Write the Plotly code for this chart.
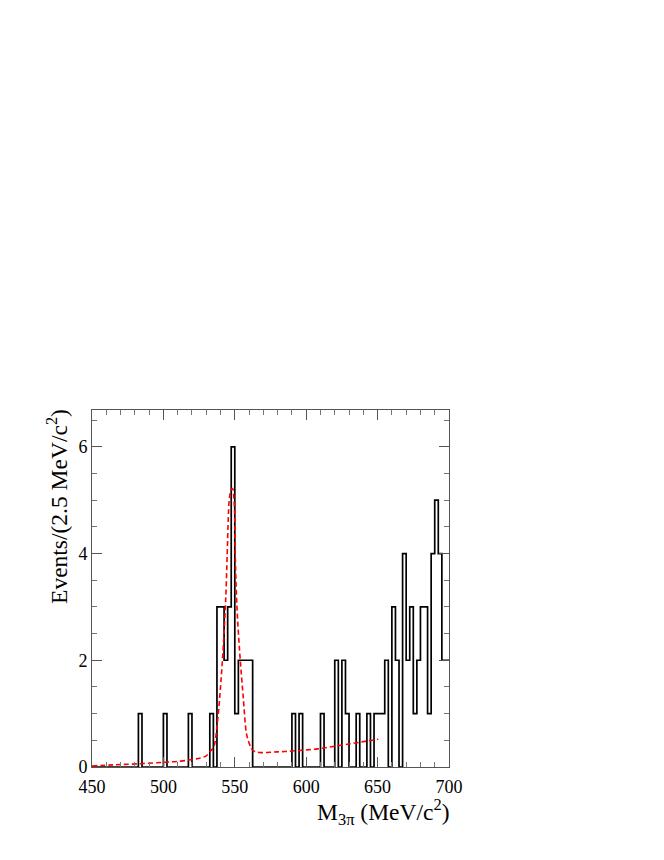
import numpy as np
import plotly.graph_objects as go

# histogram: lower bin edges (MeV/c^2) of non-empty 2.5 MeV bins and their counts
bin_lo = [482.5, 500.0, 517.5, 532.5, 537.5, 540.0, 542.5, 545.0, 547.5, 550.0,
          552.5, 555.0, 557.5, 560.0, 590.0, 595.0, 610.0, 620.0, 625.0, 627.5,
          635.0, 642.5, 647.5, 650.0, 652.5, 655.0, 660.0, 662.5, 667.5, 670.0,
          672.5, 675.0, 677.5, 680.0, 682.5, 685.0, 687.5, 690.0, 692.5, 695.0,
          697.5]
counts = [1, 1, 1, 1, 3, 3, 2, 3, 6, 1,
          2, 2, 2, 2, 1, 1, 1, 2, 2, 1,
          1, 1, 1, 1, 1, 2, 3, 2, 4, 2,
          3, 1, 2, 3, 3, 1, 4, 5, 4, 2,
          2]

# fit curve
fit_x = [450, 465, 482, 501, 512, 520, 526, 530, 533, 535.3, 537.7, 540.0,
         541.9, 543.5, 544.7, 545.4, 546.1, 547.3, 548.4, 549.6, 550.3, 551.4,
         553.5, 555.9, 558.2, 560.0, 561.7, 564.0, 568.7, 577, 585, 595, 608,
         620, 632, 641, 650.5]
fit_y = [0.02, 0.04, 0.06, 0.09, 0.11, 0.14, 0.17, 0.21, 0.30, 0.38, 0.81, 1.50,
         2.25, 3.06, 4.00, 4.63, 5.00, 5.18, 5.22, 4.94, 4.00, 3.06,
         2.12, 1.31, 0.62, 0.45, 0.34, 0.29, 0.27, 0.28, 0.29, 0.31, 0.34,
         0.39, 0.44, 0.48, 0.52]

# full binning 450-700
edges = np.arange(450, 700.01, 2.5)
h = np.zeros(len(edges) - 1)
for lo, c in zip(bin_lo, counts):
    h[int(round((lo - 450) / 2.5))] = c

step_x = list(edges)
step_y = list(h) + [h[-1]]

serif = "Liberation Serif, Times New Roman, Times, serif"

fig = go.Figure()
fig.add_trace(go.Scatter(x=step_x, y=step_y, mode="lines", line_shape="hv",
                         line=dict(color="black", width=1.7), showlegend=False))
fig.add_trace(go.Scatter(x=fit_x, y=fit_y, mode="lines", line_shape="spline",
                         line=dict(color="red", width=1.6, dash="5px,3px"),
                         showlegend=False))

axis_font = dict(family=serif, size=18, color="black")
fig.update_xaxes(range=[450, 700], dtick=50, tick0=450, ticks="inside", ticklen=10,
                 tickcolor="#555", mirror="ticks", showline=True, linecolor="#555",
                 linewidth=1, showgrid=False, zeroline=False, tickfont=axis_font,
                 ticklabelstandoff=3,
                 minor=dict(dtick=10, ticks="inside", ticklen=5, tickcolor="#777"))
fig.update_yaxes(range=[0, 6.69], dtick=2, tick0=0, ticks="inside", ticklen=10,
                 tickcolor="#555", mirror="ticks", showline=True, linecolor="#555",
                 linewidth=1, showgrid=False, zeroline=False, tickfont=axis_font,
                 minor=dict(dtick=0.5, ticks="inside", ticklen=5, tickcolor="#777"))

fig.add_annotation(text="M<sub>3π</sub> (MeV/c<sup>2</sup>)", xref="paper", yref="paper",
                   x=1.005, y=-0.125, xanchor="right", yanchor="middle", showarrow=False,
                   font=dict(family=serif, size=23.5, color="black"))
fig.add_annotation(text="Events/(2.5 MeV/c<sup>2</sup>)", xref="paper", yref="paper",
                   x=-0.1, y=1.008, xanchor="center", yanchor="top", textangle=-90,
                   showarrow=False,
                   font=dict(family=serif, size=23.5, color="black"))

fig.update_layout(width=664, height=860, plot_bgcolor="white", paper_bgcolor="white",
                  font=dict(family=serif),
                  margin=dict(l=84, r=223, t=402, b=101))

fig.write_html("out.html")
